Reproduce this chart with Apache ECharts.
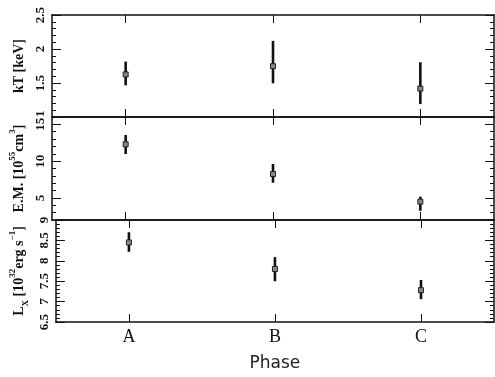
<!DOCTYPE html>
<html>
<head>
<meta charset="utf-8">
<script src="https://cdn.jsdelivr.net/npm/echarts@6/dist/echarts.min.js"></script>
<style>html,body{margin:0;padding:0;background:#fff}#c{width:495px;height:377px}</style>
</head>
<body>
<div id="c"></div>
<script>
// ---- data ----
var phases = ['A', 'B', 'C'];
var kT = [1.626, 1.747, 1.418];
var kTLo = [1.466, 1.495, 1.19];
var kTHi = [1.815, 2.12, 1.805];
var em = [12.29, 8.25, 4.49];
var emLo = [10.97, 7.07, 3.26];
var emHi = [13.55, 9.61, 5.17];
var lx = [8.45, 7.80, 7.28];
var lxLo = [8.22, 7.50, 7.06];
var lxHi = [8.70, 8.09, 7.53];
// tick labels
var kTTicks = [1, 1.5, 2, 2.5];
var emTicks = [5, 10, 15];
var lxTicks = [6.5, 7, 7.5, 8, 8.5, 9];

var FONT = 'Liberation Serif';
var panels = [
  {min: 1, max: 2.5, major: kTTicks, minorStep: 0.1, top: 15, height: 102, minAlign: 'left',
   name: '{n|kT [keV]}', v: kT, lo: kTLo, hi: kTHi},
  {min: 2, max: 16, major: emTicks, minorStep: 1, top: 117, height: 103,
   name: '{n|E.M. [10}{s|55}{n|cm}{s|3}{n|]}', v: em, lo: emLo, hi: emHi},
  {min: 6.5, max: 9, major: lxTicks, minorStep: 0.1, top: 220, height: 102,
   name: '{n|L}{b|X}{n| [10}{s|32}{n|erg s}{s|−1}{n|]}', v: lx, lo: lxLo, hi: lxHi}
];

function minorVals(p) {
  var out = [];
  var n = Math.round((p.max - p.min) / p.minorStep);
  for (var i = 0; i <= n; i++) out.push(+(p.min + i * p.minorStep).toFixed(4));
  return out;
}

var grids = [], xAxes = [], yAxes = [], series = [];
var richName = {
  n: {fontFamily: FONT, fontSize: 14, fontWeight: 'bold', color: '#111', lineHeight: 22, verticalAlign: 'middle'},
  s: {fontFamily: FONT, fontSize: 9, fontWeight: 'bold', color: '#111', lineHeight: 22, verticalAlign: 'top'},
  b: {fontFamily: FONT, fontSize: 9, fontWeight: 'bold', color: '#111', lineHeight: 22, verticalAlign: 'bottom'}
};
var LINE = {color: '#111', width: 1.5};

panels.forEach(function (p, i) {
  grids.push({left: 52, right: 1, top: p.top, height: p.height});
  var last = i === panels.length - 1;
  xAxes.push({
    type: 'category', gridIndex: i, data: phases, position: 'bottom',
    axisLine: {show: true, lineStyle: LINE},
    axisTick: {show: true, inside: true, length: 8, alignWithLabel: true, lineStyle: {color: '#111'}},
    axisLabel: {show: last, fontFamily: FONT, fontSize: 18, color: '#111', margin: 6},
    name: last ? 'Phase' : '', nameLocation: 'middle', nameGap: 33,
    nameTextStyle: {fontFamily: 'DejaVu Sans', fontSize: 17, color: '#222'}
  });
  xAxes.push({
    type: 'category', gridIndex: i, data: phases, position: 'top',
    axisLine: {show: true, lineStyle: LINE},
    axisTick: {show: true, inside: true, length: 8, alignWithLabel: true, lineStyle: {color: '#111'}},
    axisLabel: {show: false}
  });
  var minors = minorVals(p);
  ['left', 'right'].forEach(function (pos) {
    var lbl = {show: pos === 'left', customValues: p.major, rotate: 90, margin: 5,
        fontFamily: FONT, fontSize: 13, fontWeight: 'bold', color: '#111',
        showMinLabel: true, showMaxLabel: true, hideOverlap: false};
    if (p.minAlign) lbl.alignMinLabel = p.minAlign;
    yAxes.push({
      type: 'value', gridIndex: i, position: pos, min: p.min, max: p.max,
      axisLine: {show: true, lineStyle: LINE},
      axisTick: {show: true, inside: true, length: 9, customValues: p.major, lineStyle: {color: '#111'}},
      axisLabel: lbl,
      splitLine: {show: false},
      name: pos === 'left' ? p.name : '', nameLocation: 'middle', nameGap: 22, nameRotate: 90,
      nameTextStyle: {rich: richName}
    });
    yAxes.push({
      type: 'value', gridIndex: i, position: pos, min: p.min, max: p.max,
      axisLine: {show: false},
      axisTick: {show: true, inside: true, length: 4, customValues: minors, lineStyle: {color: '#111'}},
      axisLabel: {show: false},
      splitLine: {show: false}
    });
  });
  var data = p.v.map(function (val, k) { return [k, p.lo[k], p.hi[k], val]; });
  series.push({
    type: 'custom', xAxisIndex: i * 2, yAxisIndex: i * 4, data: data,
    renderItem: function (params, api) {
      var x = api.value(0);
      var a = api.coord([x, api.value(1)]);
      var b = api.coord([x, api.value(2)]);
      var c = api.coord([x, api.value(3)]);
      return {
        type: 'group',
        children: [
          {type: 'line', shape: {x1: a[0], y1: a[1], x2: b[0], y2: b[1]},
           style: {stroke: '#111', lineWidth: 2.6}},
          {type: 'rect', shape: {x: c[0] - 2.5, y: c[1] - 2.5, width: 5, height: 5},
           style: {fill: '#888', stroke: '#222', lineWidth: 1}}
        ]
      };
    }
  });
});

var chart = echarts.init(document.getElementById('c'), null, {renderer: 'canvas'});
chart.setOption({
  animation: false,
  backgroundColor: '#fff',
  grid: grids, xAxis: xAxes, yAxis: yAxes, series: series
});
</script>
</body>
</html>
